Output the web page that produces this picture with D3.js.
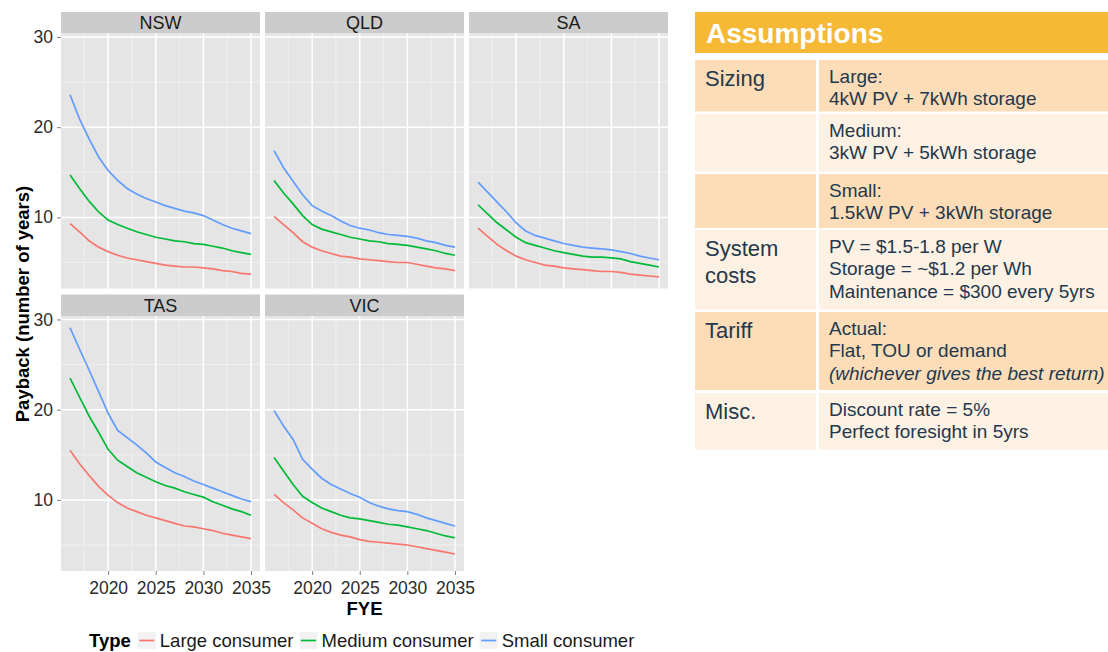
<!DOCTYPE html>
<html>
<head>
<meta charset="utf-8">
<script src="https://cdn.jsdelivr.net/npm/d3@7"></script>
<style>
    body { margin: 0; background: #fff; }
    svg { display: block; font-family: "Liberation Sans", Arial, sans-serif; }
</style>
</head>
<body>
<div id="main_view_panel"></div>
<script>

// ---- data ----
const years = [2016, 2017, 2018, 2019, 2020, 2021, 2022, 2023, 2024, 2025,
               2026, 2027, 2028, 2029, 2030, 2031, 2032, 2033, 2034, 2035];
const states = ['NSW', 'QLD', 'SA', 'TAS', 'VIC'];
const types = ['Large consumer', 'Medium consumer', 'Small consumer'];
const typeColors = ['#F8766D', '#00BA38', '#619CFF'];

const nswLarge  = [9.3, 8.4, 7.4, 6.7, 6.2, 5.8, 5.5, 5.3, 5.1, 4.9, 4.7, 4.6, 4.5, 4.5, 4.4, 4.3, 4.1, 4.0, 3.8, 3.7];
const nswMedium = [14.7, 13.2, 11.8, 10.6, 9.7, 9.2, 8.8, 8.4, 8.1, 7.8, 7.6, 7.4, 7.3, 7.1, 7.0, 6.8, 6.6, 6.3, 6.1, 5.9];
const nswSmall  = [23.6, 20.9, 18.7, 16.7, 15.2, 14.1, 13.2, 12.6, 12.1, 11.7, 11.3, 11.0, 10.7, 10.5, 10.2, 9.7, 9.2, 8.8, 8.5, 8.2];

const qldLarge  = [10.1, 9.2, 8.3, 7.3, 6.7, 6.3, 6.0, 5.7, 5.6, 5.4, 5.3, 5.2, 5.1, 5.0, 5.0, 4.8, 4.6, 4.4, 4.3, 4.1];
const qldMedium = [14.1, 12.7, 11.5, 10.2, 9.2, 8.7, 8.4, 8.1, 7.8, 7.6, 7.4, 7.3, 7.1, 7.0, 6.9, 6.7, 6.5, 6.3, 6.0, 5.8];
const qldSmall  = [17.4, 15.5, 14.0, 12.5, 11.3, 10.7, 10.2, 9.6, 9.1, 8.8, 8.6, 8.3, 8.1, 8.0, 7.9, 7.7, 7.4, 7.2, 6.9, 6.7];

const saLarge  = [8.8, 7.9, 7.0, 6.3, 5.7, 5.3, 5.0, 4.7, 4.6, 4.4, 4.3, 4.2, 4.1, 4.0, 4.0, 3.9, 3.7, 3.6, 3.5, 3.4];
const saMedium = [11.4, 10.4, 9.4, 8.6, 7.8, 7.2, 6.9, 6.6, 6.3, 6.1, 5.9, 5.7, 5.6, 5.6, 5.5, 5.4, 5.1, 4.9, 4.7, 4.5];
const saSmall  = [13.9, 12.8, 11.7, 10.6, 9.4, 8.5, 8.0, 7.7, 7.4, 7.1, 6.9, 6.7, 6.6, 6.5, 6.4, 6.2, 6.0, 5.7, 5.5, 5.3];

const tasLarge  = [15.5, 14.0, 12.7, 11.5, 10.5, 9.7, 9.1, 8.7, 8.3, 8.0, 7.7, 7.4, 7.1, 7.0, 6.8, 6.6, 6.3, 6.1, 5.9, 5.7];
const tasMedium = [23.5, 21.4, 19.3, 17.5, 15.6, 14.4, 13.7, 13.0, 12.5, 12.0, 11.6, 11.3, 10.9, 10.6, 10.3, 9.8, 9.4, 9.0, 8.7, 8.3];
const tasSmall  = [29.1, 26.7, 24.4, 22.0, 19.6, 17.7, 16.9, 16.1, 15.2, 14.2, 13.6, 13.0, 12.6, 12.1, 11.7, 11.3, 10.9, 10.5, 10.1, 9.8];

const vicLarge  = [10.6, 9.7, 8.9, 8.0, 7.4, 6.8, 6.4, 6.1, 5.9, 5.6, 5.4, 5.3, 5.2, 5.1, 5.0, 4.8, 4.6, 4.4, 4.2, 4.0];
const vicMedium = [14.7, 13.2, 11.7, 10.4, 9.7, 9.1, 8.7, 8.3, 8.0, 7.9, 7.7, 7.5, 7.3, 7.2, 7.0, 6.8, 6.6, 6.3, 6.0, 5.8];
const vicSmall  = [19.9, 18.2, 16.7, 14.5, 13.4, 12.4, 11.7, 11.2, 10.7, 10.3, 9.7, 9.3, 9.0, 8.8, 8.7, 8.4, 8.0, 7.7, 7.4, 7.1];

const payback = {
    'NSW': [nswLarge, nswMedium, nswSmall],
    'QLD': [qldLarge, qldMedium, qldSmall],
    'SA':  [saLarge, saMedium, saSmall],
    'TAS': [tasLarge, tasMedium, tasSmall],
    'VIC': [vicLarge, vicMedium, vicSmall]
};

const yTicks = [10, 20, 30];
const yMinor = [5, 15, 25];
const xTicks = [2020, 2025, 2030, 2035];
const xMinor = [2017.5, 2022.5, 2027.5, 2032.5];

// assumptions table
const assumptionHeads = [['Sizing'], [], [], ['System', 'costs'], ['Tariff'], ['Misc.']];
const assumptionBodies = [
    ['Large:', '4kW PV + 7kWh storage'],
    ['Medium:', '3kW PV + 5kWh storage'],
    ['Small:', '1.5kW PV + 3kWh storage'],
    ['PV = $1.5-1.8 per W', 'Storage = ~$1.2 per Wh', 'Maintenance = $300 every 5yrs'],
    ['Actual:', 'Flat, TOU or demand', '(whichever gives the best return)'],
    ['Discount rate = 5%', 'Perfect foresight in 5yrs']
];

// ---- layout ----
let svg = d3.select('#main_view_panel')
    .append('svg')
    .attr('width', 1108)
    .attr('height', 652);

let panelW = 199, panelH = 255, stripH = 21.5;
let colX = [61, 265, 469];
let rowY = [33.5, 316];

// ggplot style 5% expansion
let allValues = d3.merge(states.map(s => d3.merge(payback[s])));
let [vMin, vMax] = d3.extent(allValues);
let yDomain = [vMin - (vMax - vMin) * 0.05, vMax + (vMax - vMin) * 0.05];
let [yrMin, yrMax] = d3.extent(years);
let xDomain = [yrMin - (yrMax - yrMin) * 0.05, yrMax + (yrMax - yrMin) * 0.05];

states.forEach((state, k) => {
    let col = k % 3, row = Math.floor(k / 3);
    let x0 = colX[col], y0 = rowY[row];

    let x_axis = d3.scaleLinear().domain(xDomain).range([x0, x0 + panelW]);
    let y_axis = d3.scaleLinear().domain(yDomain).range([y0 + panelH, y0]);

    let g = svg.append('g');

    //strip
    g.append('rect')
        .attr('x', x0).attr('y', y0 - stripH)
        .attr('width', panelW).attr('height', stripH)
        .style('fill', '#CCCCCC');
    g.append('text')
        .attr('x', x0 + panelW / 2).attr('y', y0 - stripH / 2 + 6.5)
        .style('text-anchor', 'middle')
        .style('font-size', '18px')
        .style('fill', '#1a1a1a')
        .text(state);

    //panel background + grid
    g.append('rect')
        .attr('x', x0).attr('y', y0)
        .attr('width', panelW).attr('height', panelH)
        .style('fill', '#E5E5E5');

    g.selectAll('.minor_y').data(yMinor).enter().append('line')
        .attr('x1', x0).attr('x2', x0 + panelW)
        .attr('y1', d => y_axis(d)).attr('y2', d => y_axis(d))
        .style('stroke', '#F2F2F2').style('stroke-width', 0.8);
    g.selectAll('.minor_x').data(xMinor).enter().append('line')
        .attr('x1', d => x_axis(d)).attr('x2', d => x_axis(d))
        .attr('y1', y0).attr('y2', y0 + panelH)
        .style('stroke', '#F2F2F2').style('stroke-width', 0.8);
    g.selectAll('.major_y').data(yTicks).enter().append('line')
        .attr('x1', x0).attr('x2', x0 + panelW)
        .attr('y1', d => y_axis(d)).attr('y2', d => y_axis(d))
        .style('stroke', '#fff').style('stroke-width', 1.5);
    g.selectAll('.major_x').data(xTicks).enter().append('line')
        .attr('x1', d => x_axis(d)).attr('x2', d => x_axis(d))
        .attr('y1', y0).attr('y2', y0 + panelH)
        .style('stroke', '#fff').style('stroke-width', 1.5);

    //lines
    let line = d3.line()
        .x((d, i) => x_axis(years[i]))
        .y(d => y_axis(d));
    g.selectAll('.payback_line').data(payback[state]).enter().append('path')
        .attr('d', line)
        .style('fill', 'none')
        .style('stroke', (d, i) => typeColors[i])
        .style('stroke-width', 1.7);

    //y axis only on the first column
    if (col == 0) {
        let ax = svg.append('g')
            .attr('transform', 'translate(' + x0 + ',0)')
            .call(d3.axisLeft(y_axis).tickValues(yTicks).tickSize(4).tickPadding(4));
        ax.select('.domain').remove();
        ax.selectAll('line').style('stroke', '#7f7f7f');
        ax.selectAll('text').style('font-size', '17.5px').style('fill', '#2b2b2b')
            .style('font-family', '"Liberation Sans", Arial, sans-serif');
    }
    //x axis only under the bottom panels
    if (row == 1) {
        let ax = svg.append('g')
            .attr('transform', 'translate(0,' + (y0 + panelH) + ')')
            .call(d3.axisBottom(x_axis).tickValues(xTicks).tickFormat(d3.format('d')).tickSize(4).tickPadding(6.5));
        ax.select('.domain').remove();
        ax.selectAll('line').style('stroke', '#7f7f7f');
        ax.selectAll('text').style('font-size', '17.5px').style('fill', '#2b2b2b')
            .style('font-family', '"Liberation Sans", Arial, sans-serif');
    }
});

//axis titles
svg.append('text')
    .attr('transform', 'translate(29,304) rotate(-90)')
    .style('text-anchor', 'middle')
    .style('font-size', '18.5px')
    .style('font-weight', 'bold')
    .text('Payback (number of years)');

svg.append('text')
    .attr('x', colX[0] + (colX[2] + panelW - colX[0]) / 2).attr('y', 614.5)
    .style('text-anchor', 'middle')
    .style('font-size', '18.5px')
    .style('font-weight', 'bold')
    .text('FYE');

// legend
let legend = svg.append('g');
let legendTitle = legend.append('text')
    .attr('x', 89).attr('y', 647)
    .style('font-size', '18.5px')
    .style('font-weight', 'bold')
    .text('Type');
let lx = 89 + legendTitle.node().getComputedTextLength() + 7;
types.forEach((t, i) => {
    legend.append('rect')
        .attr('x', lx).attr('y', 632)
        .attr('width', 18).attr('height', 17)
        .style('fill', '#F2F2F2');
    legend.append('line')
        .attr('x1', lx + 1.5).attr('x2', lx + 16.5)
        .attr('y1', 640.5).attr('y2', 640.5)
        .style('stroke', typeColors[i])
        .style('stroke-width', 1.7);
    let label = legend.append('text')
        .attr('x', lx + 22).attr('y', 647)
        .style('font-size', '18.5px')
        .style('fill', '#1a1a1a')
        .text(t);
    lx += 22 + label.node().getComputedTextLength() + 6;
});

// ---- assumptions table ----
let tableX = 695, tableR = 1108, sepX = 816;
let rowTops = [60, 114, 174, 230, 312, 393];
let rowBottoms = [111.5, 171.5, 228, 309.5, 390, 449.5];
let rowFill = ['#FCDDB8', '#FDF1E3', '#FCDDB8', '#FDF1E3', '#FCDDB8', '#FDF1E3'];
let textColor = '#24384d';

svg.append('rect')
    .attr('x', tableX).attr('y', 12)
    .attr('width', tableR - tableX).attr('height', 41)
    .style('fill', '#F5B935');
svg.append('text')
    .attr('x', 706).attr('y', 43)
    .style('font-size', '28px')
    .style('font-weight', 'bold')
    .style('fill', '#fff')
    .text('Assumptions');

rowTops.forEach((top, i) => {
    let h = rowBottoms[i] - top;
    svg.append('rect')
        .attr('x', tableX).attr('y', top)
        .attr('width', sepX - tableX).attr('height', h)
        .style('fill', rowFill[i]);
    svg.append('rect')
        .attr('x', sepX + 3).attr('y', top)
        .attr('width', tableR - sepX - 3).attr('height', h)
        .style('fill', rowFill[i]);

    assumptionHeads[i].forEach((t, j) => {
        svg.append('text')
            .attr('x', 705).attr('y', top + 25.5 + j * 27)
            .style('font-size', '22px')
            .style('fill', textColor)
            .text(t);
    });
    assumptionBodies[i].forEach((t, j) => {
        svg.append('text')
            .attr('x', 829).attr('y', top + 22.5 + j * 22.8)
            .style('font-size', '19px')
            .style('font-style', t[0] == '(' ? 'italic' : 'normal')
            .style('fill', textColor)
            .text(t);
    });
});

</script>
</body>
</html>
